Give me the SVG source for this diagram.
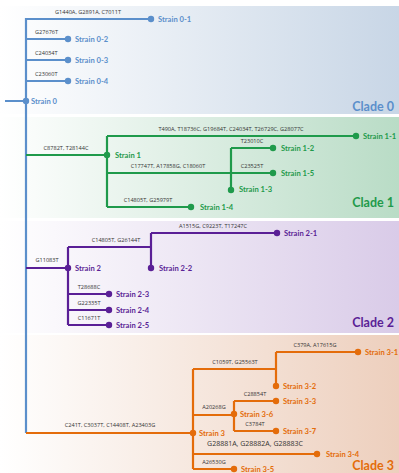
<svg xmlns="http://www.w3.org/2000/svg" width="399" height="473" viewBox="0 0 399 473">
<defs>
<linearGradient id="g0" x1="0" x2="1" y1="0" y2="0"><stop offset="0" stop-color="#ffffff"/><stop offset="1" stop-color="#c8d6e6"/></linearGradient>
<linearGradient id="g1" x1="0" x2="1" y1="0" y2="0"><stop offset="0" stop-color="#ffffff"/><stop offset="1" stop-color="#b9dcc6"/></linearGradient>
<linearGradient id="g2" x1="0" x2="1" y1="0" y2="0"><stop offset="0" stop-color="#ffffff"/><stop offset="1" stop-color="#d9cbe8"/></linearGradient>
<linearGradient id="g3" x1="0" x2="1" y1="0" y2="0"><stop offset="0" stop-color="#ffffff"/><stop offset="1" stop-color="#edcfbd"/></linearGradient>
<style>
.l{fill:none;stroke-width:2.2;stroke-linejoin:round}
.b{stroke:#5b8fcb}.gr{stroke:#1f9a4b}.p{stroke:#5a1f96}.o{stroke:#e46c0a}
.m{font-family:"Open Sans","Liberation Sans",sans-serif;font-size:5.6px;fill:#333}
.s{font-family:Lato,"Liberation Sans",sans-serif;font-size:7.6px;font-weight:bold}
.c{font-family:Lato,"Liberation Sans",sans-serif;font-size:12.5px;font-weight:bold;text-anchor:end}
.tb{fill:#5b8fcb}.tg{fill:#1f9a4b}.tp{fill:#5a1f96}.to{fill:#e46c0a}
</style>
</defs>
<g id="panels">
<rect x="0" y="6" width="399" height="108" fill="url(#g0)"/>
<rect x="0" y="117" width="399" height="101" fill="url(#g1)"/>
<rect x="0" y="221" width="399" height="112" fill="url(#g2)"/>
<rect x="0" y="335" width="399" height="138" fill="url(#g3)"/>
<text class="c tb" x="394" y="111">Clade 0</text>
<text class="c tg" x="394" y="207">Clade 1</text>
<text class="c tp" x="394" y="327">Clade 2</text>
<text class="c to" x="394" y="470">Clade 3</text>
</g>
<g id="connectors">
<path class="l b" d="M26 18V433M5 101H26M26 19H151M26 39H68M26 60H68M26 81H68"/>
<path class="l gr" d="M26 155H107M107 136V207M107 136H356M107 173H273M231 148V190M231 148H273M107 207H191"/>
<path class="l p" d="M26 268H68M68 247V325M68 247H151M151 233V268M151 233H277M68 294H109M68 310H109M68 325H109"/>
<path class="l o" d="M26 433H193M193 369V469M193 369H276M276 352V386M276 352H358M193 415H234M234 401V431M234 401H276M234 431H276M193 454H317M193 469H234"/>
</g>
<g id="mutations">
<text class="m" x="88" y="14" text-anchor="middle">G1440A, G2891A, C7011T</text>
<text class="m" x="35" y="34">G27676T</text>
<text class="m" x="35" y="55">C24034T</text>
<text class="m" x="35" y="76">C23060T</text>
<text class="m" x="66" y="150" text-anchor="middle">C8782T, T28144C</text>
<text class="m" x="231" y="131" text-anchor="middle">T490A, T18736C, G19684T, C24034T, T26729C, G28077C</text>
<text class="m" x="168" y="168" text-anchor="middle">C17747T, A17858G, C18060T</text>
<text class="m" x="252" y="143" text-anchor="middle">T23010C</text>
<text class="m" x="252" y="168" text-anchor="middle">C23525T</text>
<text class="m" x="148" y="202" text-anchor="middle">C14805T, G25979T</text>
<text class="m" x="47" y="262" text-anchor="middle">G11083T</text>
<text class="m" x="116" y="242" text-anchor="middle">C14805T, G26144T</text>
<text class="m" x="213" y="228" text-anchor="middle">A1515G, C9223T, T17247C</text>
<text class="m" x="89" y="289" text-anchor="middle">T28688C</text>
<text class="m" x="89" y="305" text-anchor="middle">G22335T</text>
<text class="m" x="89" y="320" text-anchor="middle">C11671T</text>
<text class="m" x="110" y="427" text-anchor="middle">C241T, C3037T, C14408T, A23403G</text>
<text class="m" x="235" y="364" text-anchor="middle">C1059T, G25563T</text>
<text class="m" x="315" y="347" text-anchor="middle">C379A, A17615G</text>
<text class="m" x="214" y="409" text-anchor="middle">A20268G</text>
<text class="m" x="255" y="396" text-anchor="middle">C28854T</text>
<text class="m" x="255" y="426" text-anchor="middle">C3784T</text>
<text class="m" x="255" y="446" text-anchor="middle" style="font-size:7px">G28881A, G28882A, G28883C</text>
<text class="m" x="214" y="464" text-anchor="middle">A26530G</text>
</g>
<g id="strain0"><circle cx="26" cy="101" r="3.2" class="tb"/><text class="s tb" x="31" y="104">Strain 0</text></g>
<g id="strain0-1"><circle cx="151" cy="19" r="3.2" class="tb"/><text class="s tb" x="158" y="22">Strain 0-1</text></g>
<g id="strain0-2"><circle cx="68" cy="39" r="3.2" class="tb"/><text class="s tb" x="75" y="42">Strain 0-2</text></g>
<g id="strain0-3"><circle cx="68" cy="60" r="3.2" class="tb"/><text class="s tb" x="75" y="63">Strain 0-3</text></g>
<g id="strain0-4"><circle cx="68" cy="81" r="3.2" class="tb"/><text class="s tb" x="75" y="84">Strain 0-4</text></g>
<g id="strain1"><circle cx="107" cy="155" r="3.2" class="tg"/><text class="s tg" x="115" y="158">Strain 1</text></g>
<g id="strain1-1"><circle cx="356" cy="136" r="3.2" class="tg"/><text class="s tg" x="363" y="139">Strain 1-1</text></g>
<g id="strain1-2"><circle cx="273" cy="148" r="3.2" class="tg"/><text class="s tg" x="281" y="151">Strain 1-2</text></g>
<g id="strain1-3"><circle cx="231" cy="190" r="3.2" class="tg"/><text class="s tg" x="239" y="192">Strain 1-3</text></g>
<g id="strain1-4"><circle cx="191" cy="207" r="3.2" class="tg"/><text class="s tg" x="200" y="210">Strain 1-4</text></g>
<g id="strain1-5"><circle cx="273" cy="173" r="3.2" class="tg"/><text class="s tg" x="281" y="176">Strain 1-5</text></g>
<g id="strain2"><circle cx="68" cy="268" r="3.2" class="tp"/><text class="s tp" x="75" y="271">Strain 2</text></g>
<g id="strain2-1"><circle cx="277" cy="233" r="3.2" class="tp"/><text class="s tp" x="284" y="236">Strain 2-1</text></g>
<g id="strain2-2"><circle cx="151" cy="268" r="3.2" class="tp"/><text class="s tp" x="159" y="271">Strain 2-2</text></g>
<g id="strain2-3"><circle cx="109" cy="294" r="3.2" class="tp"/><text class="s tp" x="116" y="297">Strain 2-3</text></g>
<g id="strain2-4"><circle cx="109" cy="310" r="3.2" class="tp"/><text class="s tp" x="116" y="313">Strain 2-4</text></g>
<g id="strain2-5"><circle cx="109" cy="325" r="3.2" class="tp"/><text class="s tp" x="116" y="328">Strain 2-5</text></g>
<g id="strain3"><circle cx="193" cy="433" r="3.2" class="to"/><text class="s to" x="199" y="436">Strain 3</text></g>
<g id="strain3-1"><circle cx="358" cy="352" r="3.2" class="to"/><text class="s to" x="365" y="355">Strain 3-1</text></g>
<g id="strain3-2"><circle cx="276" cy="386" r="3.2" class="to"/><text class="s to" x="283" y="389">Strain 3-2</text></g>
<g id="strain3-3"><circle cx="276" cy="401" r="3.2" class="to"/><text class="s to" x="283" y="404">Strain 3-3</text></g>
<g id="strain3-4"><circle cx="317" cy="454" r="3.2" class="to"/><text class="s to" x="326" y="457">Strain 3-4</text></g>
<g id="strain3-5"><circle cx="234" cy="469" r="3.2" class="to"/><text class="s to" x="241" y="472">Strain 3-5</text></g>
<g id="strain3-6"><circle cx="234" cy="414" r="3.2" class="to"/><text class="s to" x="240" y="417">Strain 3-6</text></g>
<g id="strain3-7"><circle cx="276" cy="431" r="3.2" class="to"/><text class="s to" x="283" y="434">Strain 3-7</text></g>
</svg>
